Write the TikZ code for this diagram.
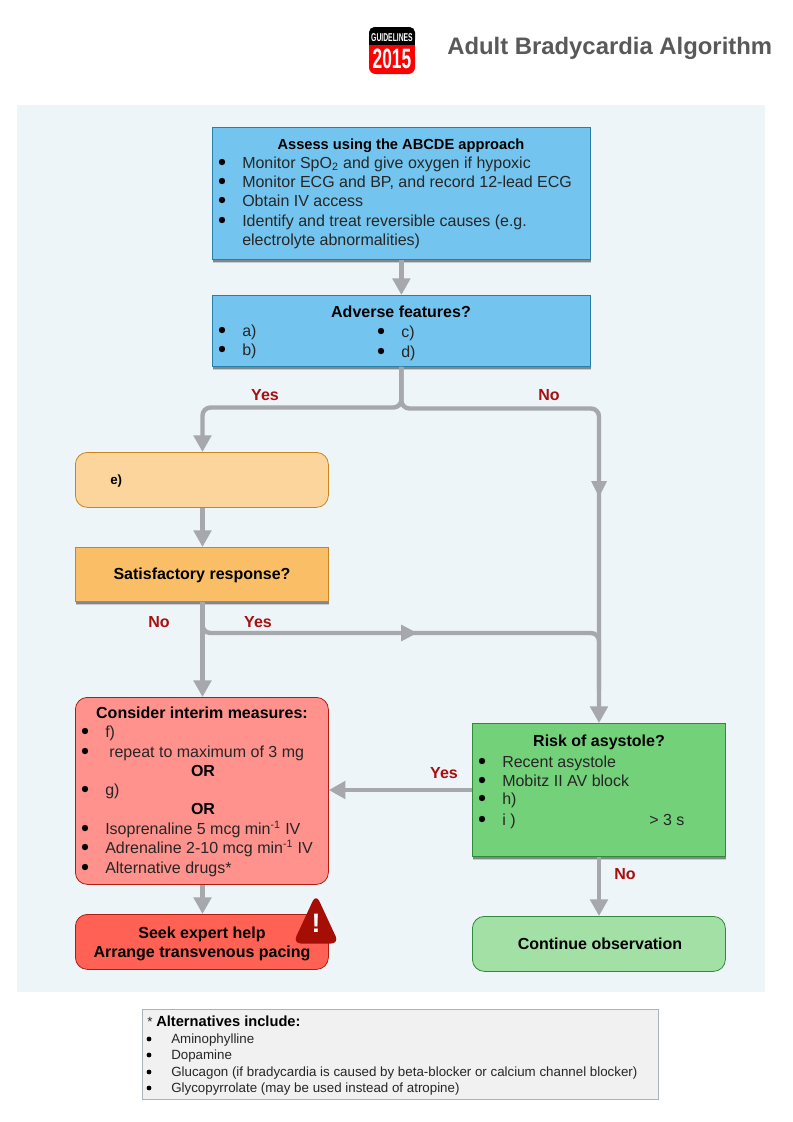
\documentclass[tikz,border=0pt]{standalone}
\usepackage{fontspec}
\setmainfont{Liberation Sans}
\usetikzlibrary{arrows.meta,shadows,calc}
\definecolor{panelc}{HTML}{EDF5F9}
\definecolor{bluef}{HTML}{73C5EF}
\definecolor{blued}{HTML}{2A7FA6}
\definecolor{peachf}{HTML}{FBD59B}
\definecolor{oranged}{HTML}{C9861F}
\definecolor{orangef}{HTML}{FABF66}
\definecolor{pinkf}{HTML}{FF928C}
\definecolor{redd}{HTML}{B01C10}
\definecolor{redf}{HTML}{FF6155}
\definecolor{greenf}{HTML}{73D179}
\definecolor{greend}{HTML}{2F8A3A}
\definecolor{lgreenf}{HTML}{A3E0A5}
\definecolor{arrowc}{HTML}{A6A8AB}
\definecolor{yesno}{HTML}{A80F0F}
\definecolor{titlec}{HTML}{595959}
\definecolor{noteback}{HTML}{F1F1F1}
\definecolor{noteedge}{HTML}{A8B4BC}
\definecolor{warnc}{HTML}{A50E04}
\newcommand{\bodysize}{\fontsize{12pt}{14pt}\selectfont}
\newcommand{\notesize}{\fontsize{10pt}{12pt}\selectfont}
\tikzset{
  x=0.75pt,y=-0.75pt,
  softshadow/.style={
    drop shadow={shadow xshift=0.4pt,shadow yshift=-3pt,fill=black,opacity=0.16},
    drop shadow={shadow xshift=0.4pt,shadow yshift=-1.8pt,fill=black,opacity=0.34}},
  flowbox/.style={draw,line width=0.6pt,minimum width=#1*0.75pt,inner sep=0pt,anchor=north west},
  sq/.style={flowbox=#1,softshadow},
  rnd/.style={flowbox=#1,rounded corners=9pt},
  head/.style={font=\bodysize\bfseries,inner sep=0pt,anchor=base},
  item/.style={font=\bodysize,inner sep=0pt,anchor=base west,text=black!85},
  bul/.style={circle,fill=black,inner sep=0pt,minimum size=4.8pt},
  lab/.style={font=\bodysize\bfseries,text=yesno,inner sep=0pt,anchor=base},
  conn/.style={draw=arrowc,line width=3.3pt,rounded corners=6pt},
  arrowed/.style={conn,-{Triangle[length=12.5pt,width=13pt,fill=arrowc]}},
  note/.style={font=\notesize,inner sep=0pt,anchor=base west,text=black!85},
  notebul/.style={circle,fill=black,inner sep=0pt,minimum size=3.6pt},
}
% name, bullet x, text x, baseline y, text
\newcommand{\lineitem}[5]{%
  \node[bul] (#1b) at (#2,#4-6) {};
  \node[item] (#1) at (#3,#4) {#5};}
\newcommand{\noteitem}[4]{%
  \node[notebul] (#1b) at (149,#3-4) {};
  \node[note] (#1) at (#2,#3) {#4};}
\begin{document}
\begin{tikzpicture}
\useasboundingbox (0,0) rectangle (793,1122);
% panel
\fill[panelc] (17,105) rectangle (765,992);
% logo
\fill[black,rounded corners=4pt] (369,27) rectangle (415,45);
\fill[black] (369,38) rectangle (415,45);
\fill[red,rounded corners=5pt] (369,50) rectangle (415,74);
\fill[red] (369,45) rectangle (415,58);
\node[inner sep=0pt,text=white,font=\fontsize{8.5pt}{9pt}\selectfont\bfseries] (logotop) at (392,38) {\scalebox{0.6}[1]{GUIDELINES}};
\node[inner sep=0pt,text=white,font=\fontsize{21pt}{22pt}\selectfont\bfseries] (logoyear) at (392,59) {\scalebox{0.62}[1]{2015}};
\node[inner sep=0pt,anchor=base west,text=titlec,font=\fontsize{17.9pt}{20pt}\selectfont\bfseries] (title) at (447,54) {Adult Bradycardia Algorithm};

% boxes
\node[sq=378,minimum height=132*0.75pt,fill=bluef,draw=blued] (assess) at (212,127) {};
\node[sq=378,minimum height=71*0.75pt,fill=bluef,draw=blued] (adverse) at (212,295) {};
\node[rnd=253,minimum height=55*0.75pt,fill=peachf,draw=oranged] (e) at (75,452) {};
\node[sq=253,minimum height=54*0.75pt,fill=orangef,draw=oranged] (resp) at (75,547) {};
\node[rnd=253,minimum height=187*0.75pt,fill=pinkf,draw=redd] (interim) at (75,697) {};
\node[rnd=253,minimum height=55*0.75pt,fill=redf,draw=redd] (expert) at (75,914) {};
\node[sq=253,minimum height=133*0.75pt,fill=greenf,draw=greend] (risk) at (472,723) {};
\node[rnd=253,minimum height=55*0.75pt,fill=lgreenf,draw=greend] (cont) at (472,916) {};

% connectors
\coordinate (rightrun) at (599,690);
\draw[arrowed] (assess.south) -- (adverse.north);
\draw[arrowed] (adverse.south) -- (adverse.south |- 0,407.5) -- (202.5,407.5) -- (e.north -| 202.5,0);
\draw[arrowed] (adverse.south) -- (adverse.south |- 0,408.5) -- (599,408.5) -- (risk.north -| 599,0);
\draw[arrowed] (e.south -| 202.5,0) -- (resp.north -| 202.5,0);
\draw[arrowed] (resp.south -| 202.5,0) -- (interim.north -| 202.5,0);
\draw[conn] (resp.south -| 202.5,0) -- (202.5,633) -- (599,633) -- (rightrun);
\draw[arrowed] (risk.west |- 0,790) -- (interim.east |- 0,790);
\draw[arrowed] (interim.south -| 202.5,0) -- (expert.north -| 202.5,0);
\draw[arrowed] (risk.south -| 599,0) -- (cont.north -| 599,0);
% mid-line arrowheads
\fill[arrowc] (591,481) -- (607,481) -- (599,497) -- cycle;
\fill[arrowc] (401,624.5) -- (417,633) -- (401,641.5) -- cycle;

% texts
\node[head,font=\fontsize{11pt}{13pt}\selectfont\bfseries] (h1) at (401,149) {Assess using the ABCDE approach};
\lineitem{a1}{222}{242}{168}{Monitor SpO\textsubscript{2} and give oxygen if hypoxic}
\lineitem{a2}{222}{242}{187}{Monitor ECG and BP, and record 12-lead ECG}
\lineitem{a3}{222}{242}{206}{Obtain IV access}
\lineitem{a4}{222}{242}{226}{Identify and treat reversible causes (e.g.}
\node[item] (a5) at (242,245) {electrolyte abnormalities)};

\node[head] (h2) at (401,317) {Adverse features?};
\lineitem{b1}{222}{242}{336}{a)}
\lineitem{b2}{222}{242}{355}{b)}
\lineitem{b3}{381}{401}{337}{c)}
\lineitem{b4}{381}{401}{357}{d)}

\node[lab] (yes1) at (265,400) {Yes};
\node[lab] (no1) at (549,400) {No};
\node[inner sep=0pt,anchor=base west,font=\fontsize{10pt}{12pt}\selectfont\bfseries] (e1) at (110,484) {e)};
\node[head] (h3) at (202,579) {Satisfactory response?};
\node[lab] (no2) at (159,627) {No};
\node[lab] (yes2) at (258,627) {Yes};

\node[head] (h4) at (202,718) {Consider interim measures:};
\lineitem{i1}{85}{105}{737}{f)}
\lineitem{i2}{85}{109}{757}{repeat to maximum of 3 mg}
\node[head] (or1) at (203,776) {OR};
\lineitem{i3}{85}{105}{795}{g)}
\node[head] (or2) at (203,814) {OR};
\lineitem{i4}{85}{105}{834}{Isoprenaline 5 mcg min\textsuperscript{-1} IV}
\lineitem{i5}{85}{105}{853}{Adrenaline 2-10 mcg min\textsuperscript{-1} IV}
\lineitem{i6}{85}{105}{873}{Alternative drugs*}

\node[head] (h5) at (202,938) {Seek expert help};
\node[head] (h6) at (202,957) {Arrange transvenous pacing};

% warning sign
\fill[warnc,rounded corners=6pt] (316,894) -- (339,943.5) -- (293,943.5) -- cycle;
\node[inner sep=0pt,text=white,font=\fontsize{20pt}{22pt}\selectfont\bfseries] (warn) at (316,923) {!};

\node[lab] (yes3) at (444,778) {Yes};
\node[head] (h7) at (599,746) {Risk of asystole?};
\lineitem{r1}{482}{502}{767}{Recent asystole}
\lineitem{r2}{482}{502}{786}{Mobitz II AV block}
\lineitem{r3}{482}{502}{804}{h)}
\lineitem{r4}{482}{502}{825}{i )}
\node[item] (r5) at (649,825) {> 3 s};
\node[lab] (no3) at (625,879) {No};
\node[head] (h8) at (600,949) {Continue observation};

% note
\node[draw=noteedge,fill=noteback,line width=0.6pt,minimum width=516*0.75pt,minimum height=90*0.75pt,inner sep=0pt,anchor=north west] (notebox) at (142,1009) {};
\node[note] (n0a) at (147,1026) {*};
\node[note,font=\fontsize{11pt}{13pt}\selectfont\bfseries,text=black] (n0) at (156,1026) {Alternatives include:};
\noteitem{n1}{171}{1043}{Aminophylline}
\noteitem{n2}{171}{1059}{Dopamine}
\noteitem{n3}{171}{1076}{Glucagon (if bradycardia is caused by beta-blocker or calcium channel blocker)}
\noteitem{n4}{171}{1092}{Glycopyrrolate (may be used instead of atropine)}
\end{tikzpicture}
\end{document}
